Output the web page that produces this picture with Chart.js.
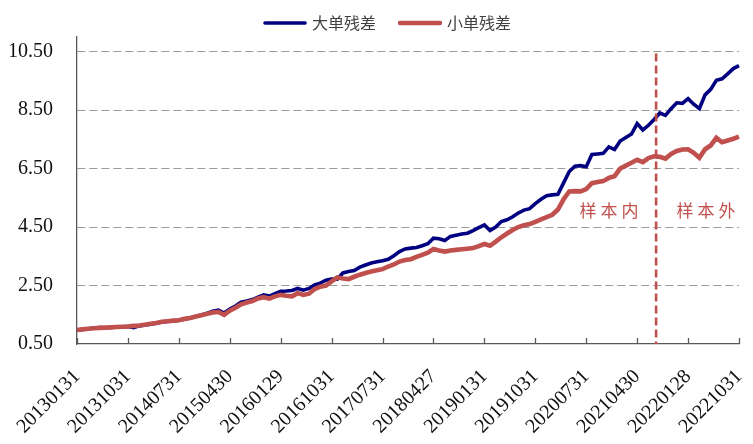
<!DOCTYPE html>
<html>
<head>
<meta charset="utf-8">
<script src="https://cdn.jsdelivr.net/npm/chart.js@4"></script>
<style>
html,body{margin:0;padding:0;background:#fff;}
#wrap{width:753px;height:444px;position:relative;}
</style>
</head>
<body>
<div id="wrap"><canvas id="c" width="753" height="444"></canvas></div>
<script>
// ---- data ----
const seriesNames = ['大单残差', '小单残差'];
const seriesColors = ['#000080', '#C0504D'];
const tickLabels = ['20130131','20131031','20140731','20150430','20160129','20161031','20170731',
  '20180427','20190131','20191031','20200731','20210430','20220128','20221031'];
const tickEvery = 9;
const yTickValues = [0.5, 2.5, 4.5, 6.5, 8.5, 10.5];
const yMin = 0.5, yMax = 11;
const splitMonth = '202107';
const regionLabels = ['样本内', '样本外'];

const bigOrder = [
  0.98,1.00,1.02,1.05,1.06,1.05,1.07,1.08,1.09,1.10,
  1.06,1.12,1.15,1.18,1.21,1.25,1.27,1.29,1.31,1.35,
  1.39,1.44,1.49,1.55,1.62,1.66,1.56,1.70,1.80,1.93,
  1.97,2.02,2.10,2.18,2.14,2.22,2.30,2.31,2.33,2.40,
  2.34,2.40,2.52,2.58,2.68,2.72,2.72,2.93,2.98,3.01,
  3.13,3.20,3.27,3.31,3.35,3.40,3.52,3.66,3.75,3.78,
  3.80,3.86,3.93,4.12,4.10,4.04,4.18,4.22,4.26,4.29,
  4.38,4.48,4.57,4.38,4.50,4.69,4.75,4.85,4.98,5.08,
  5.13,5.30,5.45,5.57,5.60,5.62,6.01,6.40,6.58,6.60,
  6.56,6.98,7.00,7.02,7.24,7.15,7.44,7.56,7.68,8.04,
  7.82,7.98,8.18,8.40,8.32,8.55,8.75,8.73,8.89,8.70,
  8.55,9.02,9.21,9.52,9.57,9.74,9.92,10.02
];
const smallOrder = [
  0.98,1.00,1.02,1.04,1.05,1.06,1.07,1.08,1.09,1.10,
  1.12,1.13,1.16,1.19,1.22,1.26,1.28,1.30,1.31,1.36,
  1.39,1.44,1.48,1.53,1.58,1.60,1.50,1.64,1.74,1.86,
  1.92,1.97,2.06,2.10,2.05,2.13,2.18,2.15,2.13,2.24,
  2.18,2.22,2.38,2.46,2.50,2.64,2.78,2.74,2.72,2.80,
  2.87,2.93,2.98,3.02,3.06,3.15,3.22,3.32,3.37,3.40,
  3.48,3.55,3.62,3.75,3.70,3.66,3.70,3.72,3.74,3.76,
  3.78,3.85,3.92,3.86,4.00,4.15,4.28,4.40,4.50,4.56,
  4.60,4.68,4.76,4.84,4.92,5.10,5.45,5.72,5.73,5.72,
  5.80,6.00,6.04,6.07,6.18,6.24,6.50,6.60,6.70,6.80,
  6.72,6.86,6.92,6.90,6.84,7.00,7.10,7.15,7.16,7.04,
  6.87,7.16,7.29,7.55,7.40,7.46,7.52,7.59
];

// month-end category labels (Jan 2013 .. Oct 2022); shown ones are the tickLabels
const categories = [];
for (let i = 0; i < bigOrder.length; i++) {
  const y = 2013 + Math.floor(i / 12), m = i % 12;
  const d = new Date(Date.UTC(y, m + 1, 0));
  let s = '' + y + String(m + 1).padStart(2, '0') + String(d.getUTCDate()).padStart(2, '0');
  if (i % tickEvery === 0 && tickLabels[i / tickEvery]) s = tickLabels[i / tickEvery];
  categories.push(s);
}
// the in-sample / out-of-sample split sits just after this month
const splitPos = categories.findIndex(c => c.startsWith(splitMonth)) + 0.35;

const serif = "'Liberation Serif','Times New Roman',serif";
const cjk = "'Noto Sans CJK SC','Noto Sans',sans-serif";

const overlay = {
  id: 'overlay',
  afterDatasetsDraw(chart) {
    const {ctx, scales: {x, y}} = chart;
    ctx.save();
    // x tick marks (inside the plot)
    ctx.strokeStyle = '#595959';
    ctx.lineWidth = 1.3;
    for (let i = 0; i < categories.length; i += tickEvery) {
      const px = Math.round(x.getPixelForValue(i)) + 0.5;
      ctx.beginPath();
      ctx.moveTo(px, y.bottom);
      ctx.lineTo(px, y.bottom - 6);
      ctx.stroke();
    }
    // split line
    const sx = x.getPixelForValue(splitPos);
    ctx.strokeStyle = seriesColors[1];
    ctx.lineWidth = 2.6;
    ctx.setLineDash([8, 4]);
    ctx.beginPath();
    ctx.moveTo(sx, y.getPixelForValue(10.5) + 2);
    ctx.lineTo(sx, y.bottom);
    ctx.stroke();
    ctx.setLineDash([]);
    // region labels
    ctx.fillStyle = seriesColors[1];
    ctx.font = '17px ' + cjk;
    ctx.textBaseline = 'middle';
    ctx.textAlign = 'center';
    try { ctx.letterSpacing = '4px'; } catch (e) {}
    const ty = y.getPixelForValue(5.06);
    ctx.fillText(regionLabels[0], sx - 45, ty);
    ctx.fillText(regionLabels[1], sx + 52, ty);
    try { ctx.letterSpacing = '0px'; } catch (e) {}
    // legend
    const legendY = 23;
    const items = [{x: 263, tx: 312}, {x: 398, tx: 447}];
    ctx.font = '16px ' + cjk;
    ctx.textAlign = 'left';
    chart.data.datasets.forEach((ds, i) => {
      ctx.strokeStyle = ds.borderColor;
      ctx.lineWidth = i === 0 ? 3.6 : 4.4;
      ctx.lineCap = 'round';
      ctx.beginPath();
      ctx.moveTo(items[i].x + 2, legendY);
      ctx.lineTo(items[i].x + 42, legendY);
      ctx.stroke();
      ctx.fillStyle = '#404040';
      ctx.fillText(ds.label, items[i].tx, legendY);
    });
    ctx.restore();
  }
};

new Chart(document.getElementById('c'), {
  type: 'line',
  data: {
    labels: categories,
    datasets: [
      {label: seriesNames[0], data: bigOrder, borderColor: seriesColors[0], backgroundColor: seriesColors[0],
       borderWidth: 3.6, pointRadius: 0, tension: 0, order: 1},
      {label: seriesNames[1], data: smallOrder, borderColor: seriesColors[1], backgroundColor: seriesColors[1],
       borderWidth: 4.6, pointRadius: 0, tension: 0, order: 0}
    ]
  },
  options: {
    responsive: false,
    animation: false,
    events: [],
    layout: {padding: {left: 10, right: 14, top: 37, bottom: 0}},
    plugins: {legend: {display: false}, tooltip: {enabled: false}},
    scales: {
      x: {
        type: 'category',
        offset: false,
        grid: {display: false},
        border: {display: true, color: '#595959', width: 1.3},
        ticks: {
          autoSkip: false,
          minRotation: 45, maxRotation: 45,
          padding: 13,
          color: '#111',
          font: {family: serif, size: 20},
          callback: (v, i) => (i % tickEvery === 0 ? categories[i] : null)
        },
        afterFit: s => { s.height = 100; s.paddingRight = 0; s.paddingLeft = 0; }
      },
      y: {
        min: yMin, max: yMax,
        afterBuildTicks: s => { s.ticks = yTickValues.map(v => ({value: v})); },
        grid: {
          drawTicks: false,
          color: c => (c.tick && c.tick.value === yMin ? 'rgba(0,0,0,0)' : '#9a9a9a'),
          lineWidth: 1
        },
        border: {display: true, color: '#595959', width: 1.3, dash: [8, 4]},
        ticks: {
          padding: 24,
          color: '#111',
          font: {family: serif, size: 20},
          callback: v => Number(v).toFixed(2)
        },
        afterFit: s => { s.width = 67; }
      }
    }
  },
  plugins: [overlay]
});
</script>
</body>
</html>
